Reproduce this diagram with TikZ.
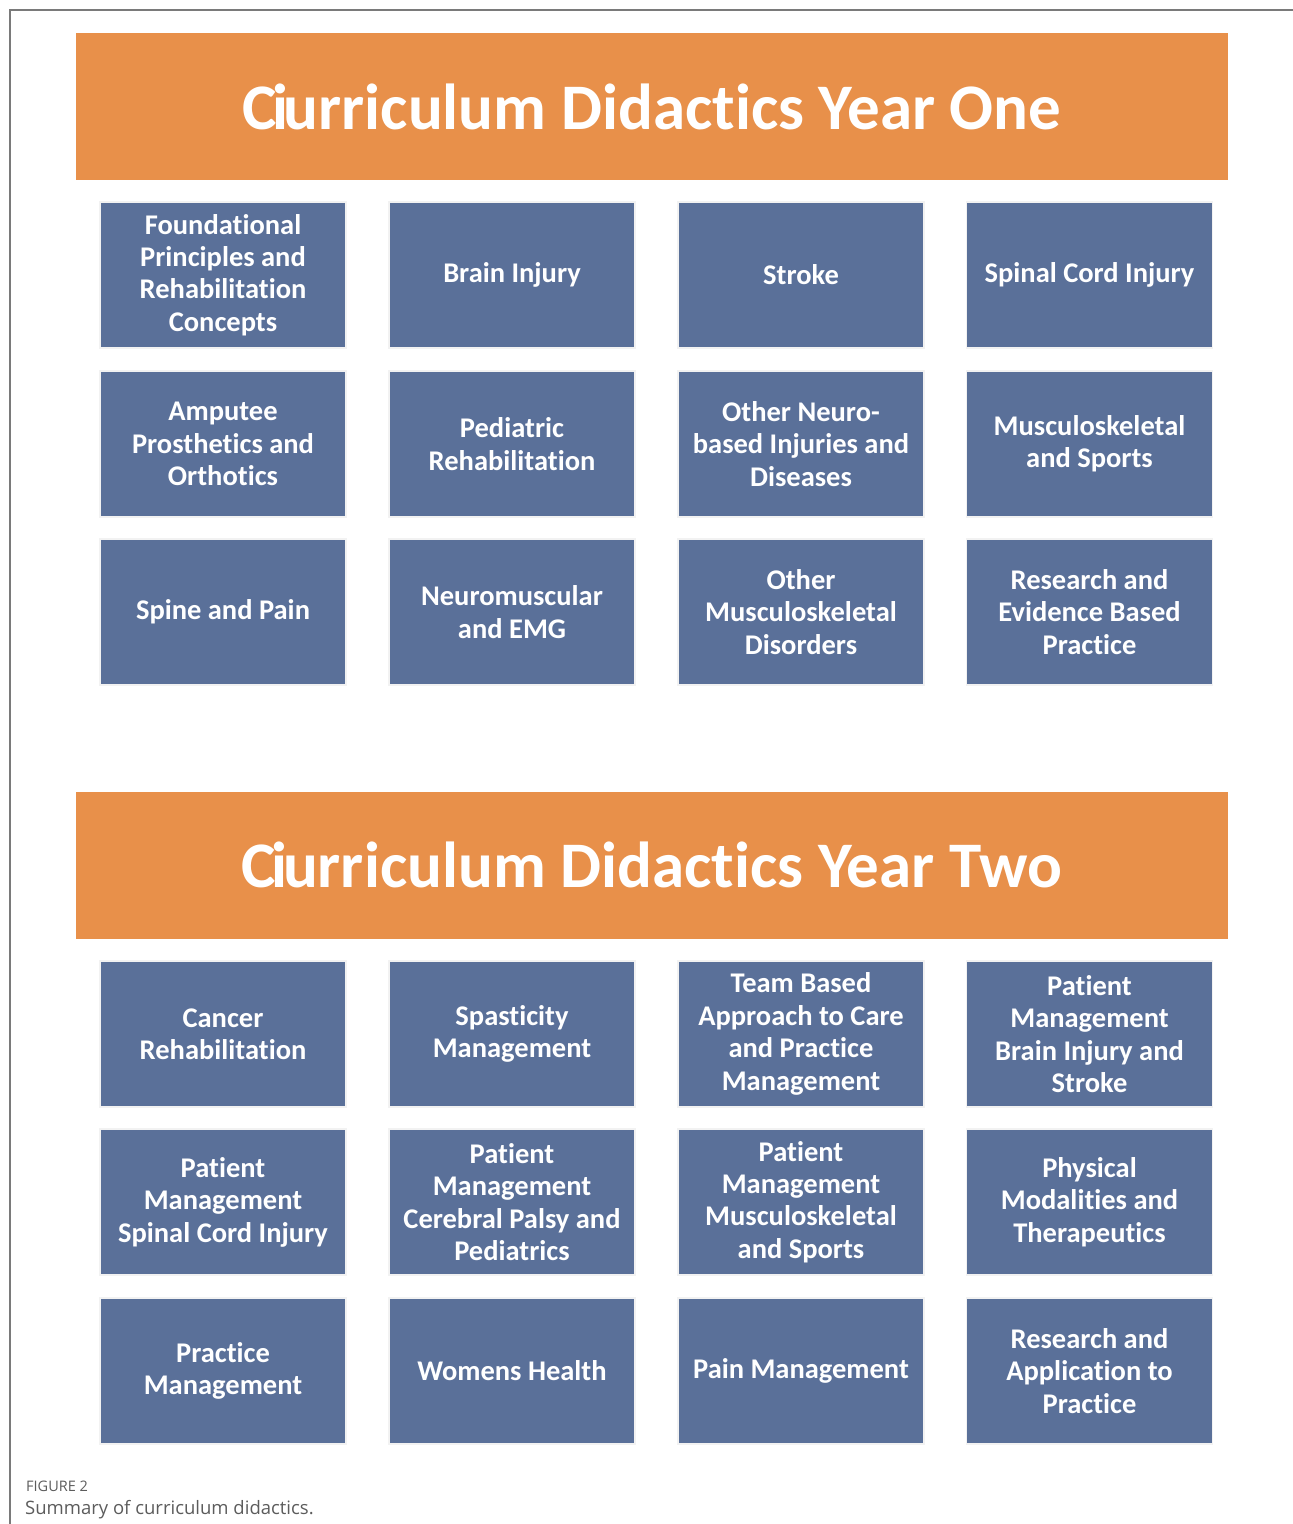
\documentclass[tikz,border=0pt]{standalone}
\usepackage{fontspec}
\setmainfont{Carlito}[Ligatures=NoCommon]
\newfontfamily\capfont{Open Sans}
\usepackage{xcolor}
\definecolor{corange}{HTML}{E8904A}
\definecolor{cblue}{HTML}{5A7099}
\definecolor{cframe}{HTML}{7A7A7A}
\definecolor{ccaption}{HTML}{5C5C5C}

\tikzset{
	header/.style={fill=corange, minimum width=1152pt, minimum height=147pt, inner sep=0pt,
		text=white, font=\fontsize{65}{76}\selectfont\bfseries},
	topic/.style={fill=cblue, draw=black!5, line width=1.5pt, minimum width=246pt, minimum height=146pt,
		inner sep=0pt, align=center, text=white, font=\fontsize{28.5}{32.4}\selectfont\bfseries}
}

\begin{document}
\begin{tikzpicture}[x=1pt, y=-1pt]
		\useasboundingbox (0,0) rectangle (1293,1524);
		\fill[white] (0,0) rectangle (1293,1524);
		\draw[color=cframe, line width=1.2pt] (10,1524) -- (10,10) -- (1293,10);

		% year one
		\node[header] (head1) at (652,106.5) {C\kern-0.07em i\kern-0.07em urriculum Didactics Year One};
		\node[topic] (a1) at (223,275) {Foundational\\Principles and\\Rehabilitation\\Concepts};
		\node[topic] (a2) at (512,275) {Brain Injury};
		\node[topic] (a3) at (801,275) {Stroke};
		\node[topic] (a4) at (1089.5,275) {Spinal Cord Injury};
		\node[topic] (b1) at (223,444) {Amputee\\Prosthetics and\\Orthotics};
		\node[topic] (b2) at (512,444) {Pediatric\\Rehabilitation};
		\node[topic] (b3) at (801,444) {Other Neuro-\\based Injuries and\\Diseases};
		\node[topic] (b4) at (1089.5,444) {Musculoskeletal\\and Sports};
		\node[topic] (c1) at (223,612) {Spine and Pain};
		\node[topic] (c2) at (512,612) {Neuromuscular\\and EMG};
		\node[topic] (c3) at (801,612) {Other\\Musculoskeletal\\Disorders};
		\node[topic] (c4) at (1089.5,612) {Research and\\Evidence Based\\Practice};

		% year two
		\node[header] (head2) at (652,865) {C\kern-0.07em i\kern-0.07em urriculum Didactics Year Two};
		\node[topic] (d1) at (223,1034) {Cancer\\Rehabilitation};
		\node[topic] (d2) at (512,1034) {Spasticity\\Management};
		\node[topic] (d3) at (801,1034) {Team Based\\Approach to Care\\and Practice\\Management};
		\node[topic] (d4) at (1089.5,1034) {Patient\\Management\\Brain Injury and\\Stroke};
		\node[topic] (e1) at (223,1202) {Patient\\Management\\Spinal Cord Injury};
		\node[topic] (e2) at (512,1202) {Patient\\Management\\Cerebral Palsy and\\Pediatrics};
		\node[topic] (e3) at (801,1202) {Patient\\Management\\Musculoskeletal\\and Sports};
		\node[topic] (e4) at (1089.5,1202) {Physical\\Modalities and\\Therapeutics};
		\node[topic] (f1) at (223,1371) {Practice\\Management};
		\node[topic] (f2) at (512,1371) {Womens Health};
		\node[topic] (f3) at (801,1371) {Pain Management};
		\node[topic] (f4) at (1089.5,1371) {Research and\\Application to\\Practice};

		% caption
		\node[anchor=base west, inner sep=0pt, text=ccaption, font=\capfont\fontsize{14.5}{16}\selectfont] (figno) at (26,1491) {FIGURE 2};
		\node[anchor=base west, inner sep=0pt, text=ccaption, font=\capfont\fontsize{18.5}{21}\selectfont] (figcap) at (25,1514) {Summary of curriculum didactics.};
	\end{tikzpicture}
\end{document}
